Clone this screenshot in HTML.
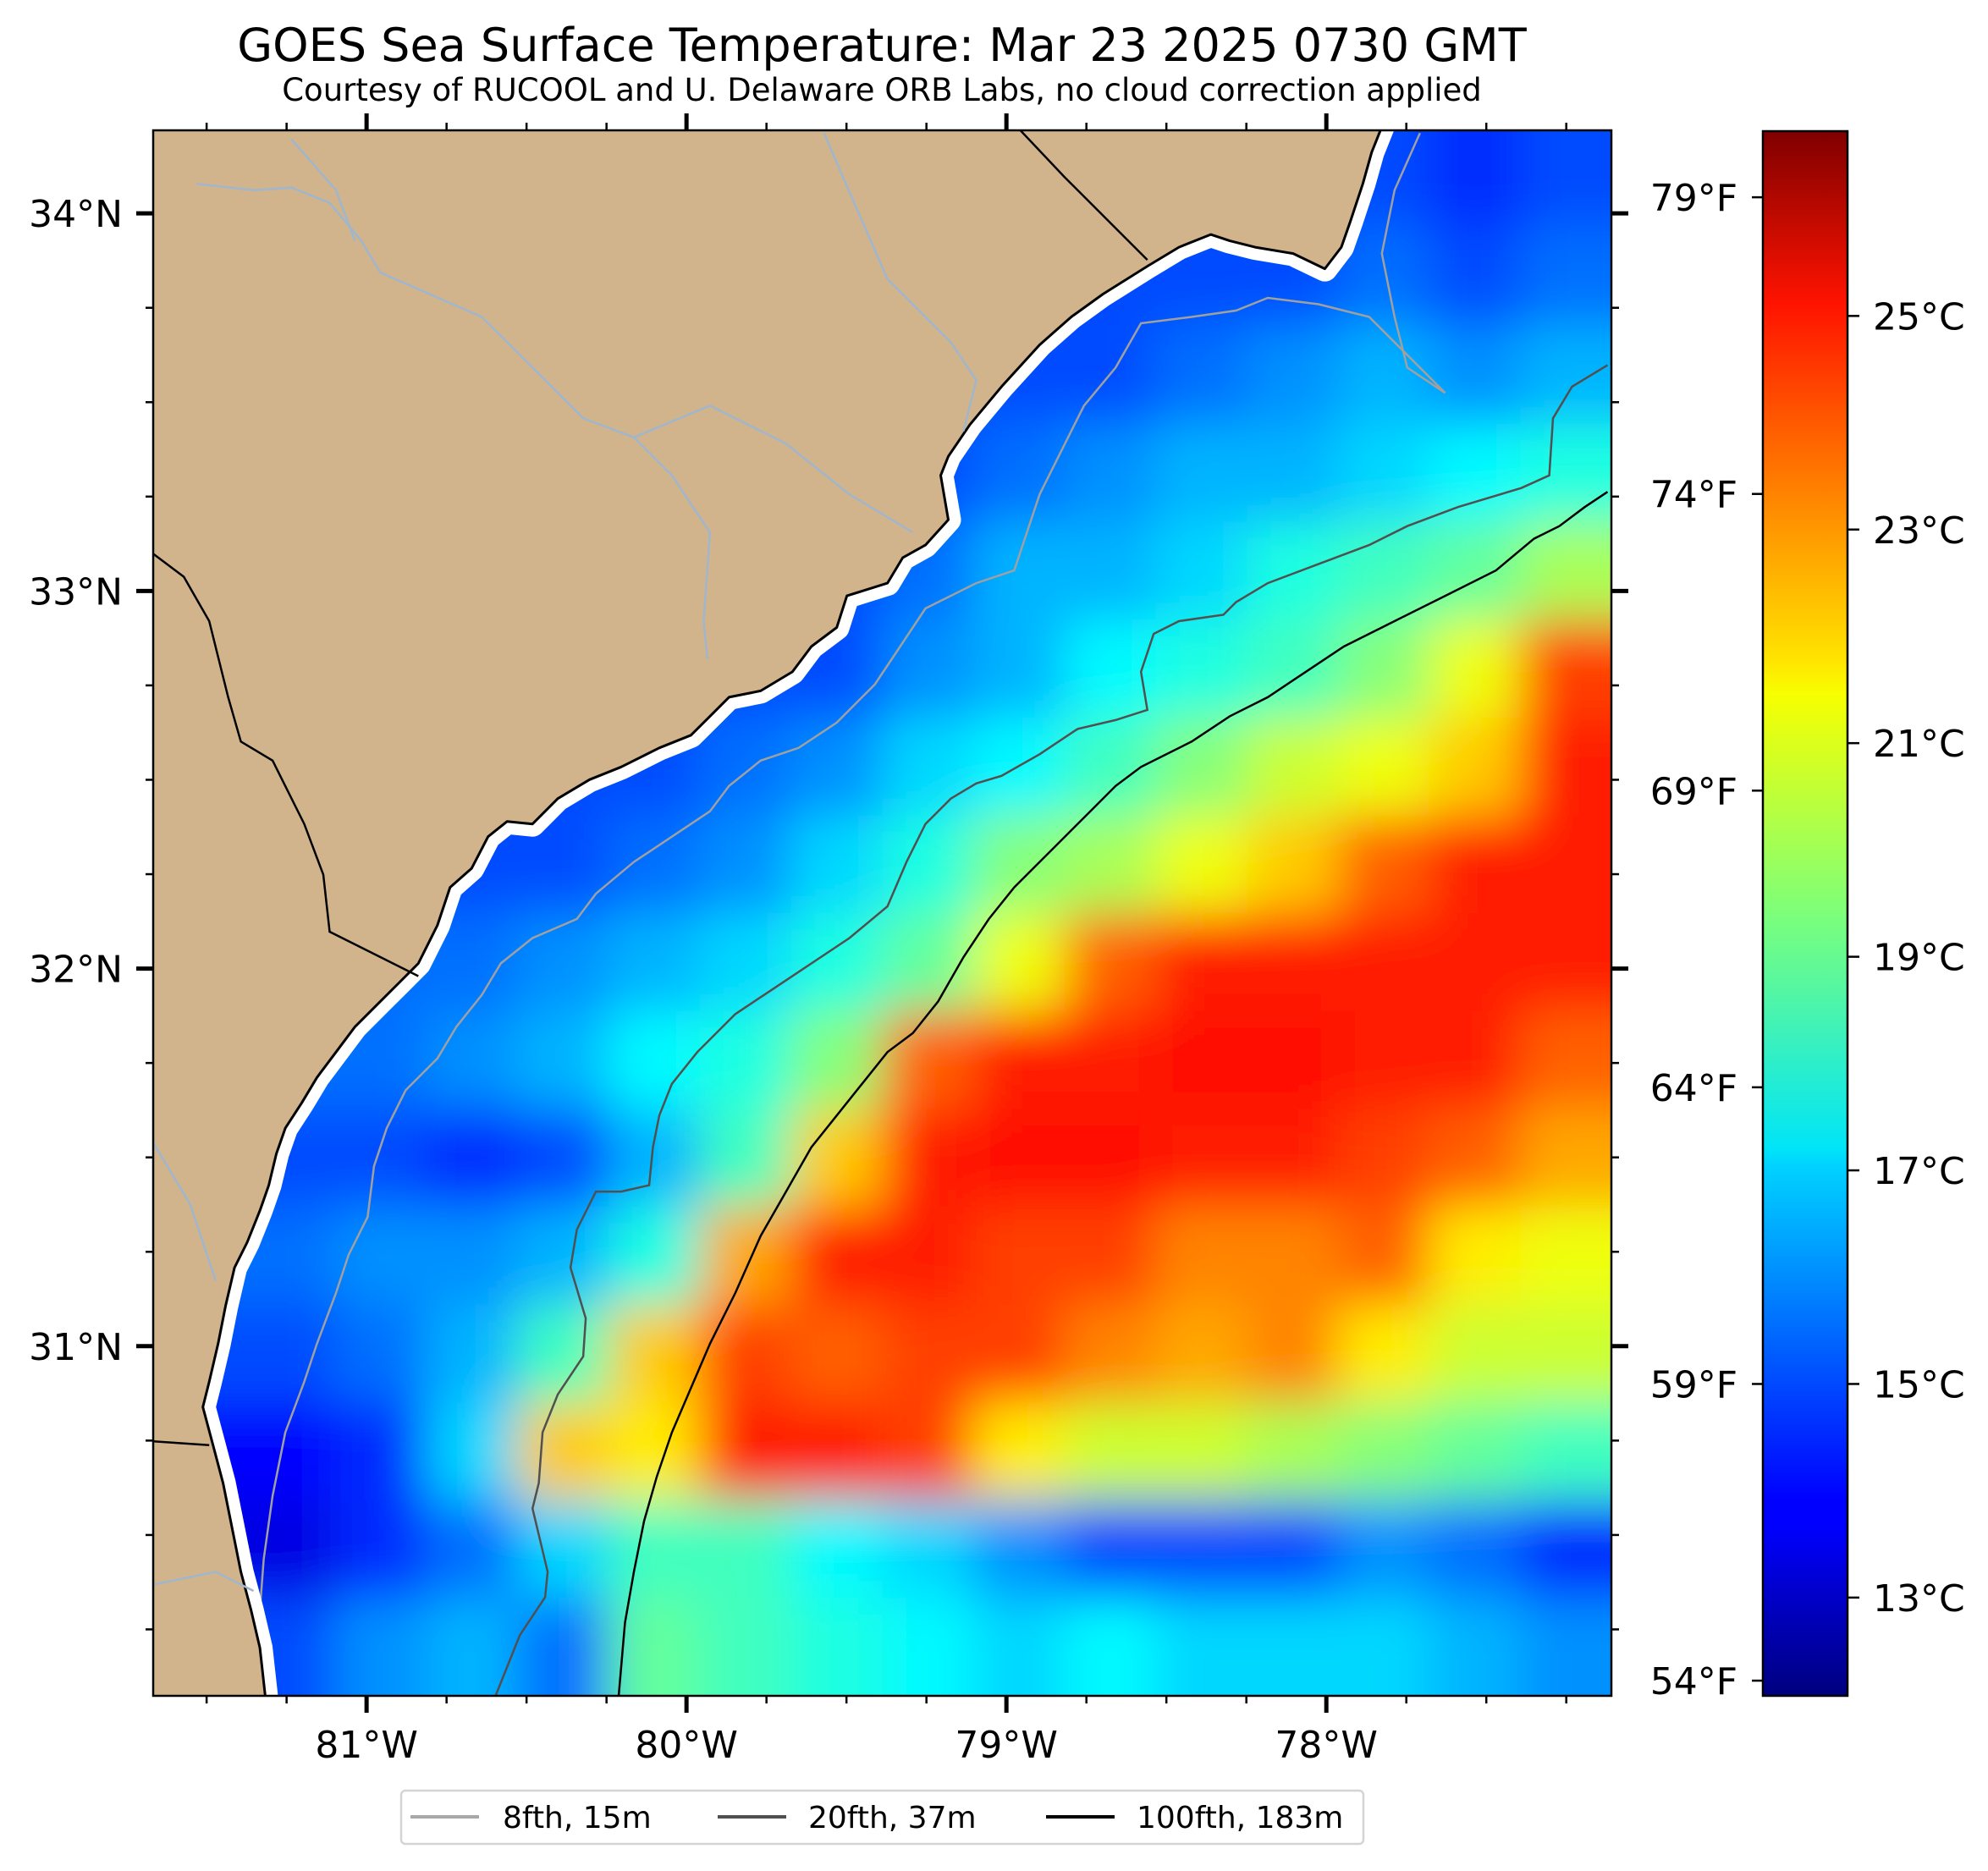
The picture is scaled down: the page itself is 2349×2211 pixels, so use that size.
<!DOCTYPE html>
<html><head><meta charset="utf-8">
<style>
html,body{margin:0;padding:0;background:#fff;}
svg{display:block;font-family:"DejaVu Sans","Liberation Sans",sans-serif;}
</style></head>
<body>
<svg id="chart" width="2349" height="2211" viewBox="0 0 2349 2211" xmlns="http://www.w3.org/2000/svg">
<defs>
<clipPath id="axclip"><rect x="181" y="154" width="1723" height="1850"/></clipPath>
<filter id="blur" x="-5%" y="-5%" width="110%" height="110%"><feGaussianBlur stdDeviation="30"/></filter>
<linearGradient id="jet" x1="0" y1="1" x2="0" y2="0">
<stop offset="0" stop-color="#00007f"/><stop offset="0.11" stop-color="#0000ff"/><stop offset="0.125" stop-color="#0000ff"/>
<stop offset="0.34" stop-color="#00d4ff"/><stop offset="0.35" stop-color="#00e5f7"/><stop offset="0.5" stop-color="#7dff7a"/>
<stop offset="0.64" stop-color="#f7ff00"/><stop offset="0.66" stop-color="#ffe600"/><stop offset="0.89" stop-color="#ff1300"/>
<stop offset="1" stop-color="#7f0000"/></linearGradient>
</defs>
<text x="1042" y="72" text-anchor="middle" font-size="54">GOES Sea Surface Temperature: Mar 23 2025 0730 GMT</text>
<text x="1042" y="119" text-anchor="middle" font-size="37">Courtesy of RUCOOL and U. Delaware ORB Labs, no cloud correction applied</text>
<g clip-path="url(#axclip)">
<rect x="181" y="154" width="1723" height="1850" fill="#6fe" />
<g id="sst" filter="url(#blur)"></g>
<g id="contours"></g>
<path id="coastwhite" fill="none" stroke="#fff" stroke-width="30" stroke-linejoin="round"/>
<path id="land" fill="#d2b48c" stroke="#000" stroke-width="3" stroke-linejoin="round"/>
<path id="rivers" fill="none" stroke="#9fb6cd" stroke-width="2.5"/>
<path id="border" fill="none" stroke="#000" stroke-width="2.5"/>
</g>
<rect x="181" y="154" width="1723" height="1850" fill="none" stroke="#000" stroke-width="2.5"/>
<g id="axes"></g>
<rect x="2083" y="155" width="100" height="1849" fill="url(#jet)" stroke="#000" stroke-width="2.5"/>
<g id="cbar"></g>
<g>
<rect x="474" y="2116" width="1137" height="63" rx="5" fill="#fff" stroke="#d4d4d4" stroke-width="2.5"/>
<line x1="485" y1="2147" x2="566" y2="2147" stroke="#a8a8a8" stroke-width="4"/>
<text x="594" y="2160" font-size="36">8fth, 15m</text>
<line x1="848" y1="2147" x2="929" y2="2147" stroke="#505050" stroke-width="4"/>
<text x="955" y="2160" font-size="36">20fth, 37m</text>
<line x1="1236" y1="2147" x2="1317" y2="2147" stroke="#000" stroke-width="4"/>
<text x="1343" y="2160" font-size="36">100fth, 183m</text>
</g>
</svg>
<script>
// --- data ---
var lonTicks=[-81,-80,-79,-78];
var latTicks=[34,33,32,31];
var cTicks=[13,15,17,19,21,23,25];
var fTicks=[54,59,64,69,74,79];
var gridRows=16, gridCols=16;
var sstRow0=[15,15,15,15,15,15,15,15,15,15,15,15,15,15,14.5,15];
var sstRow1=[15,15,15,15,15,15,15,15,15,15,15,15,15,15.5,15,15.5];
var sstRow2=[15,15,15,15,15,15,15,15,15,15,15,15.5,16,16.5,16,16.5];
var sstRow3=[15,15,15,15,15,15,15,15,15,15.5,16,16.5,16.5,17,17.5,18];
var sstRow4=[15,15,15,15,15,15,15,15,15.5,16.5,16.5,17,18,18.5,19,20];
var sstRow5=[15,15,15,15,15,15,15,15,16,16.5,17.5,18,18.5,19.5,21,24];
var sstRow6=[15,15,15,15,15,15,15.5,16,17,17.5,18.5,19.5,20.5,21,22,24.5];
var sstRow7=[15,15,15,15,15,15.5,16,17,18,19.5,20,21,22,23.5,24.5,24.5];
var sstRow8=[15.5,15.5,15.5,15.5,16,16.5,17,18,19,21,23.5,24.5,24.5,24.5,24.5,24.5];
var sstRow9=[15.5,15.5,15.5,16,16.5,17.5,18,19.5,23.5,24.5,24.5,24.8,24.8,24.5,24.5,23.5];
var sstRow10=[15,15,15,14.5,15,16.5,18.5,22,24.5,24.8,24.8,24.5,24.5,24,23.5,22.5];
var sstRow11=[15.5,15.5,16,16,16.5,18,22.5,24.5,24.5,24,24,23,23,23.5,21.5,21];
var sstRow12=[15,15,15.5,16.5,18.5,22,24,23.5,24,24,23,22.5,23,21.5,20.5,20.5];
var sstRow13=[14,14,14.5,17,22,21.5,24.5,24.5,24,21.5,20.5,20.5,20,19.5,19,18.5];
var sstRow14=[13.5,13.5,14.5,15.5,17,18.5,18.5,17.5,17,16,15,15,15,16,15.5,14.5];
var sstRow15=[15,15,16,16.5,15.5,19,18.5,18,17.5,17,17.5,17,17,17,16.5,16];
var sstRows=[sstRow0,sstRow1,sstRow2,sstRow3,sstRow4,sstRow5,sstRow6,sstRow7,sstRow8,sstRow9,sstRow10,sstRow11,sstRow12,sstRow13,sstRow14,sstRow15];

// --- scales ---
var AX={l:181,r:1904,t:154,b:2004};
var lonMin=-81.667,lonMax=-77.109,latMin=30.074,latMax=34.22;
function xLon(v){return AX.l+(v-lonMin)/(lonMax-lonMin)*(AX.r-AX.l);}
function yLat(v){return AX.b-(v-latMin)/(latMax-latMin)*(AX.b-AX.t);}
var cMin=12.08,cMax=26.73;
function yC(v){return 2004-(v-cMin)/(cMax-cMin)*1849;}
function yF(f){return yC((f-32)*5/9);}
function jet(v){
  var t=Math.max(0,Math.min(1,(v-cMin)/(cMax-cMin)));
  function c(x){return Math.max(0,Math.min(1,x));}
  var r=c(Math.min(4*t-1.5,-4*t+4.5)),g=c(Math.min(4*t-0.5,-4*t+3.5)),b=c(Math.min(4*t+0.5,-4*t+2.5));
  return 'rgb('+Math.round(r*255)+','+Math.round(g*255)+','+Math.round(b*255)+')';
}
var NS='http://www.w3.org/2000/svg';
function mk(tag,attrs,parent){var e=document.createElementNS(NS,tag);for(var k in attrs)e.setAttribute(k,attrs[k]);parent.appendChild(e);return e;}

// --- SST cells ---
var sst=document.getElementById('sst');
var cw=(AX.r-AX.l)/gridCols,ch=(AX.b-AX.t)/gridRows;
for(var i=0;i<gridRows;i++){for(var j=0;j<gridCols;j++){
  var x=AX.l+j*cw-(j==0?80:0),y=AX.t+i*ch-(i==0?80:0);
  var w=cw+1+(j==0||j==gridCols-1?80:0),h=ch+1+(i==0||i==gridRows-1?80:0);
  var r=mk('rect',{x:x,y:y,width:w,height:h,fill:jet(sstRows[i][j])},sst);
  
  
}}

// --- geometry (display coords scaled to full res) ---
var S=1.498;
function path(pts,close){return pts.map(function(p,k){return (k?'L':'M')+(p[0]*S).toFixed(1)+' '+(p[1]*S).toFixed(1);}).join(' ')+(close?' Z':'');}
var coast=[[1090,100],[1082,120],[1075,145],[1065,175],[1058,195],[1045,212],[1020,200],[990,195],[970,190],[955,185],[930,195],[905,210],[870,232],[845,250],[820,272],[790,305],[765,335],[748,360],[742,375],[748,410],[730,430],[712,440],[700,460],[668,470],[660,495],[640,510],[625,530],[600,545],[575,550],[560,565],[545,580],[520,590],[490,605],[465,615],[440,630],[420,650],[400,648],[385,660],[372,685],[355,700],[345,730],[330,760],[315,775],[300,790],[280,810],[265,830],[250,850],[238,870],[225,890],[218,910],[212,935],[205,955],[195,980],[185,1000],[178,1030],[172,1060],[165,1090],[160,1110],[168,1140],[176,1170],[182,1200],[190,1240],[198,1270],[205,1300],[210,1345],[115,1345],[115,100]];
document.getElementById('land').setAttribute('d',path(coast,true));
document.getElementById('coastwhite').setAttribute('d',path(coast,true));
document.getElementById('rivers').setAttribute('d',
 path([[155,145],[200,150],[230,148],[260,160],[285,190],[300,215],[380,250],[420,290],[460,330],[500,345],[530,375],[560,420],[555,490],[558,520]])+' '+
 path([[230,110],[265,150],[280,190]])+' '+
 path([[650,105],[665,140],[700,220],[750,270],[770,300],[760,340]])+' '+
 path([[500,345],[560,320],[620,350],[670,390],[720,420]])+' '+
 path([[120,900],[150,950],[170,1010]])+' '+
 path([[121,1250],[170,1240],[200,1255]]));
document.getElementById('border').setAttribute('d',path([[805,103],[840,140],[880,180],[905,205]])+' '+path([[121,437],[145,455],[165,490],[180,550],[190,585],[215,600],[240,650],[255,690],[260,735],[300,755],[330,770]])+' '+path([[121,1137],[165,1140]]));

var cg=document.getElementById('contours');
var c8=[[1140,310],[1110,290],[1100,250],[1090,200],[1100,150],[1120,105]];
var c8b=[[1140,310],[1080,250],[1040,240],[1000,235],[975,245],[940,250],[900,255],[880,290],[855,320],[840,350],[820,390],[810,420],[800,450],[770,460],[730,480],[710,510],[690,540],[660,570],[630,590],[600,600],[575,620],[560,640],[530,660],[500,680],[470,705],[455,725],[420,740],[395,760],[380,785],[360,810],[345,835],[320,860],[305,890],[295,920],[290,960],[275,990],[265,1020],[250,1060],[240,1090],[225,1130],[215,1180],[208,1230],[205,1270],[215,1338]];
var c20=[[1268,288],[1240,305],[1225,330],[1222,375],[1200,385],[1150,400],[1110,415],[1080,430],[1040,445],[1000,460],[975,475],[965,485],[930,490],[910,500],[900,530],[905,560],[880,568],[850,575],[820,595],[790,612],[770,618],[750,630],[730,650],[715,680],[700,715],[670,740],[640,760],[610,780],[580,800],[550,830],[530,855],[520,880],[515,905],[512,935],[490,940],[470,940],[455,970],[450,1000],[462,1040],[460,1070],[440,1100],[428,1130],[425,1170],[420,1190],[432,1240],[430,1260],[410,1290],[400,1315],[390,1340]];
var c100=[[1268,388],[1250,400],[1230,415],[1210,425],[1180,450],[1140,470],[1100,490],[1060,510],[1030,530],[1000,550],[970,565],[940,585],[900,605],[880,620],[860,640],[830,670],[800,700],[780,725],[760,755],[740,790],[720,815],[700,830],[680,855],[660,880],[640,905],[620,940],[600,975],[580,1020],[560,1060],[545,1095],[530,1130],[518,1165],[508,1200],[500,1240],[493,1280],[488,1338]];
var p;
p=mk('path',{d:path(c8)+' '+path(c8b),fill:'none',stroke:'#a0a0a0','stroke-width':2.5},cg);


p=mk('path',{d:path(c20),fill:'none',stroke:'#505050','stroke-width':2.5},cg);


p=mk('path',{d:path(c100),fill:'none',stroke:'#000','stroke-width':2.5},cg);



// --- axes ---
var ax=document.getElementById('axes');
for(var v=-81.5;v<=-77.2;v+=0.25){
  var x=xLon(v);var major=lonTicks.indexOf(Math.round(v*100)/100)>=0;
  var L=major?20:9,W=major?5:2.5;
  mk('line',{x1:x,y1:AX.b,x2:x,y2:AX.b+L,stroke:'#000','stroke-width':W},ax);
  mk('line',{x1:x,y1:AX.t,x2:x,y2:AX.t-L,stroke:'#000','stroke-width':W},ax);
}
lonTicks.forEach(function(v){
  var t=mk('text',{x:xLon(v),y:2077,'text-anchor':'middle','font-size':44},ax);
  t.textContent=Math.abs(v)+'°W';
  
  
});
for(var v=30.25;v<=34.2;v+=0.25){
  var y=yLat(v);var major=latTicks.indexOf(Math.round(v*100)/100)>=0;
  var L=major?20:9,W=major?5:2.5;
  mk('line',{x1:AX.l,y1:y,x2:AX.l-L,y2:y,stroke:'#000','stroke-width':W},ax);
  mk('line',{x1:AX.r,y1:y,x2:AX.r+L,y2:y,stroke:'#000','stroke-width':W},ax);
}
latTicks.forEach(function(v){
  var t=mk('text',{x:145,y:yLat(v)+16,'text-anchor':'end','font-size':44},ax);
  t.textContent=v+'°N';
  
  
});
// --- colorbar ---
var cb=document.getElementById('cbar');
cTicks.forEach(function(v){
  var y=yC(v);
  mk('line',{x1:2183,y1:y,x2:2197,y2:y,stroke:'#000','stroke-width':2.5},cb);
  var t=mk('text',{x:2213,y:y+16,'font-size':44},cb);
  t.textContent=v+'°C';
  
  
});
fTicks.forEach(function(f){
  var y=yF(f);
  mk('line',{x1:2070,y1:y,x2:2083,y2:y,stroke:'#000','stroke-width':2.5},cb);
  var t=mk('text',{x:2053,y:y+16,'text-anchor':'end','font-size':44},cb);
  t.textContent=f+'°F';
  
  
});
</script>
</body></html>
